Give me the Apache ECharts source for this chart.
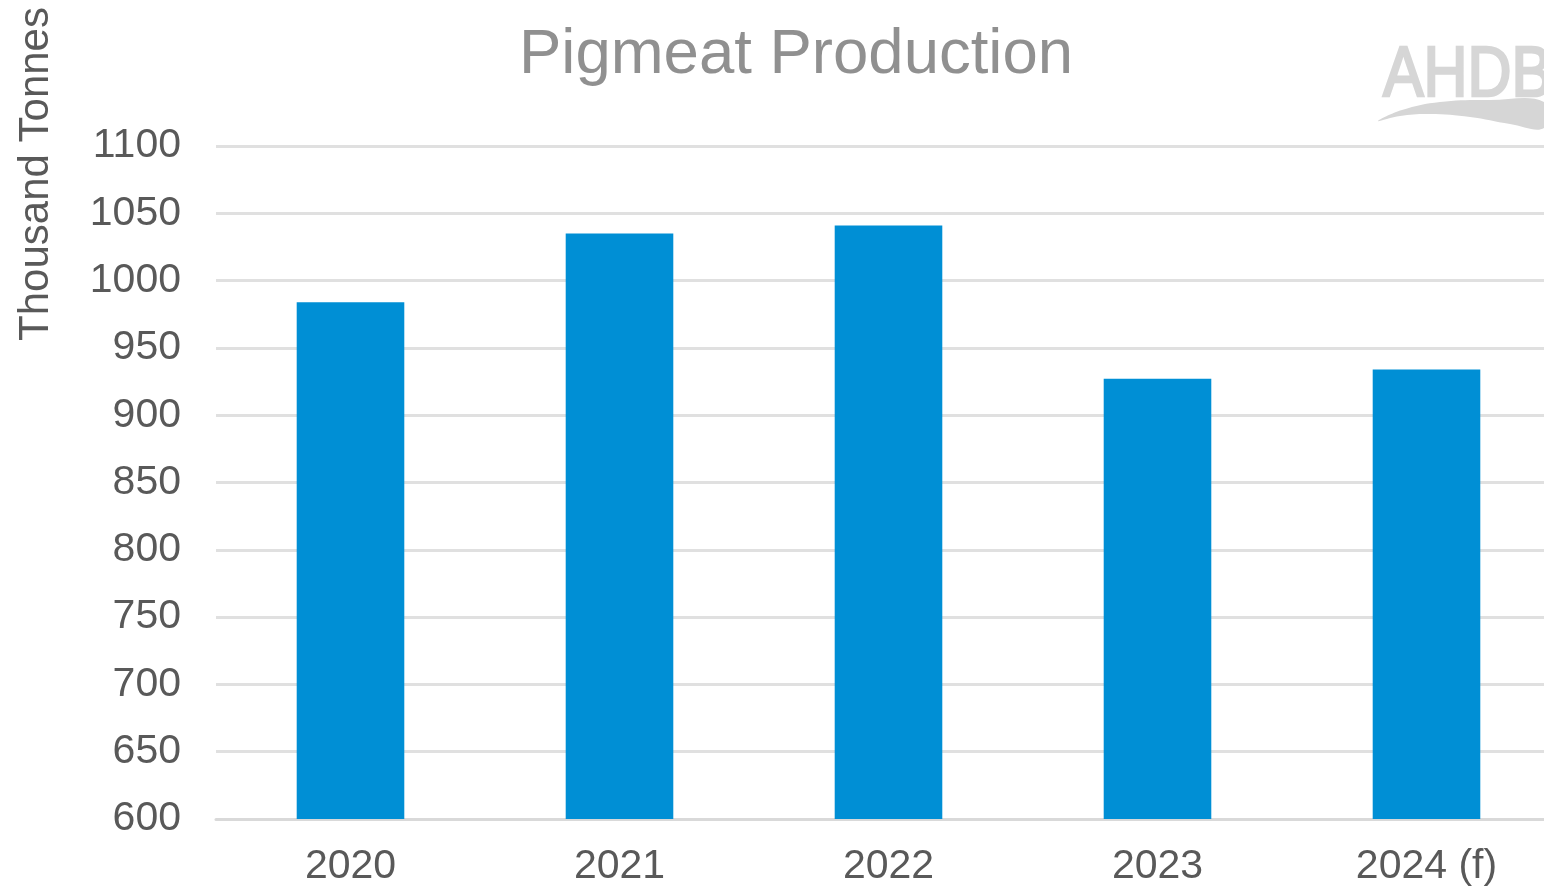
<!DOCTYPE html>
<html>
<head>
<meta charset="utf-8">
<title>Pigmeat Production</title>
<script src="https://cdn.jsdelivr.net/npm/echarts@6/dist/echarts.min.js"></script>
<style>
  html, body { margin: 0; padding: 0; background: #ffffff; }
  #chart { width: 1544px; height: 891px; }
</style>
</head>
<body>
<div id="chart"></div>
<script>
// Annual UK pigmeat production, thousand tonnes
const years = ['2020', '2021', '2022', '2023', '2024 (f)'];
const production = [984, 1035, 1041, 927, 934];

// Value axis range and step
const yMin = 600;
const yMax = 1100;
const yStep = 50;

const chart = echarts.init(document.getElementById('chart'), null, { renderer: 'canvas' });

const font = 'Liberation Sans, Arial, sans-serif';

chart.setOption({
  animation: false,
  backgroundColor: '#ffffff',
  title: {
    text: 'Pigmeat Production',
    left: 791,
    textAlign: 'center',
    top: 18,
    textStyle: { color: '#909090', fontFamily: font, fontSize: 63.5, fontWeight: 'normal' }
  },
  // plot area runs slightly past the right edge of the page
  grid: { left: 216, right: -17, top: 146, bottom: 72, containLabel: false, outerBoundsMode: 'none' },
  xAxis: {
    type: 'category',
    data: years,
    axisLine: { show: true, lineStyle: { color: '#d9d9d9', width: 3 } },
    axisTick: { show: false },
    axisLabel: { color: '#595959', fontFamily: font, fontSize: 41, margin: 27 }
  },
  yAxis: {
    type: 'value',
    min: yMin,
    max: yMax,
    interval: yStep,
    axisLine: { show: false },
    axisTick: { show: false },
    axisLabel: {
      color: '#595959', fontFamily: font, fontSize: 41, margin: 35,
      formatter: (v) => String(v)
    },
    splitLine: { show: true, lineStyle: { color: '#e0e0e0', width: 3 } }
  },
  series: [{
    type: 'bar',
    data: production,
    barWidth: '40%',
    itemStyle: { color: '#008fd5' }
  }],
  graphic: [
    {
      // value axis title, written upward along the left edge
      type: 'text',
      x: 36,
      y: 174,
      rotation: Math.PI / 2,
      silent: true,
      style: {
        text: 'Thousand Tonnes',
        fill: '#595959',
        font: '42px ' + font,
        align: 'center',
        verticalAlign: 'middle'
      }
    },
    {
      type: 'text',
      x: 1383,
      y: 42,
      scaleX: 0.87,
      silent: true,
      style: {
        text: 'AHDB',
        fill: '#d6d6d6',
        stroke: '#d6d6d6',
        lineWidth: 2.5,
        font: '70px ' + font
      }
    },
    {
      // logo swoosh under the lettering
      type: 'polygon',
      silent: true,
      shape: {
        smooth: 0.4,
        points: [
          [1378, 121], [1402, 110], [1440, 102], [1490, 100], [1544, 102],
          [1544, 128], [1510, 124], [1470, 117], [1430, 114], [1400, 116]
        ]
      },
      style: { fill: '#d6d6d6' }
    }
  ]
});
</script>
</body>
</html>
